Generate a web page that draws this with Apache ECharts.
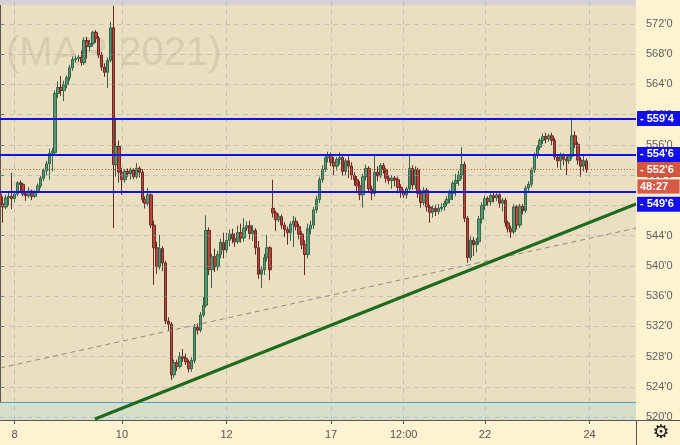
<!DOCTYPE html>
<html><head><meta charset="utf-8">
<script src="https://cdn.jsdelivr.net/npm/echarts@6/dist/echarts.min.js"></script>
<style>html,body{margin:0;padding:0;background:#fff3d2;}#c{width:680px;height:445px;}</style>
</head><body><div id="c"></div>
<script>
// ---- data ----
const ohlc = [
[549.5,548.2,547.4,550.0],[548.2,547.8,545.7,549.2],[547.8,549.0,547.5,549.4],[549.0,549.2,548.0,549.7],[549.2,548.9,547.5,552.3],
[548.9,549.5,548.4,549.8],[549.5,551.0,549.2,551.2],[551.0,550.8,549.8,551.3],[550.8,549.5,549.2,551.0],[549.5,549.3,548.6,549.9],
[549.3,549.9,549.0,550.4],[549.9,549.2,548.7,550.1],[549.2,549.8,549.0,550.0],[549.8,550.6,549.6,550.9],[550.6,551.6,550.3,551.9],
[551.6,552.6,551.2,552.9],[552.6,553.5,552.0,553.9],[553.5,554.9,551.4,555.5],[554.9,555.2,552.5,555.6],[555.0,562.8,554.6,563.2],
[562.8,563.6,562.2,564.4],[563.6,563.2,562.5,565.1],[563.2,564.0,561.8,564.5],[564.0,564.9,563.5,565.2],[564.9,566.2,564.5,566.6],
[566.2,567.3,565.8,567.7],[567.3,567.4,566.9,567.8],[567.4,567.6,567.0,567.9],[567.6,566.9,566.5,568.5],[566.9,569.8,566.6,570.2],
[569.8,569.0,567.4,570.3],[569.0,569.4,568.4,569.9],[569.4,570.9,569.0,571.1],[570.9,570.1,569.5,571.2],[570.1,567.9,567.5,570.4],
[567.9,566.3,565.8,568.3],[566.3,565.6,565.0,566.8],[565.6,567.2,563.5,567.6],[567.2,571.5,566.9,572.3],[571.5,553.4,545.0,574.4],
[553.4,555.8,551.8,559.6],[555.8,552.4,551.0,556.6],[552.4,551.4,549.4,552.9],[551.4,552.5,551.0,552.8],[552.5,552.2,551.8,552.9],
[552.2,552.7,551.4,553.0],[552.7,551.8,551.5,552.9],[551.8,552.9,551.5,553.6],[552.9,552.4,551.7,553.2],[552.4,548.8,548.4,552.8],
[548.8,548.3,547.6,549.2],[548.3,549.4,547.9,550.3],[549.4,545.4,545.0,549.6],[545.4,542.4,537.5,546.0],[542.4,539.9,538.9,543.2],
[539.9,542.3,539.5,544.1],[542.3,540.4,539.3,542.6],[540.4,532.7,532.3,540.7],[532.7,532.3,531.4,533.2],[532.3,525.6,524.9,532.6],
[525.6,527.2,525.2,527.6],[527.2,526.7,526.1,527.6],[526.7,528.0,526.4,528.6],[528.0,527.8,527.3,529.0],[527.8,527.3,526.9,528.4],
[527.3,526.4,525.9,527.6],[526.4,527.5,526.0,527.9],[527.5,531.9,527.1,532.3],[531.9,531.5,530.9,532.4],[531.5,533.5,531.2,533.9],
[533.5,534.8,533.2,535.9],[534.8,544.7,534.5,546.7],[544.7,539.5,538.8,545.1],[539.5,541.2,537.1,541.6],[541.2,539.9,539.2,542.3],
[539.9,541.5,539.4,542.0],[541.5,543.1,541.0,543.6],[543.1,542.1,541.0,544.4],[542.1,543.4,541.7,544.4],[543.4,544.2,542.6,544.8],
[544.2,543.6,543.0,544.9],[543.6,543.2,542.5,544.3],[543.2,544.4,542.9,545.3],[544.4,543.7,543.1,545.6],[543.7,545.0,543.2,546.3],
[545.0,545.3,544.6,545.9],[545.3,544.3,543.5,546.0],[544.3,544.7,543.3,545.4],[544.7,542.4,541.5,545.0],[542.4,538.9,538.3,543.3],
[538.9,539.5,537.1,540.0],[539.5,541.1,538.8,541.6],[541.1,542.4,540.6,544.1],[542.4,539.5,538.1,542.6],[547.6,547.0,546.4,551.4],
[547.0,546.1,544.6,547.3],[546.1,546.5,545.8,546.9],[546.5,545.4,544.9,546.8],[545.4,544.8,543.8,545.8],[544.8,544.4,542.8,545.2],
[544.4,545.5,543.3,545.9],[545.5,545.9,542.5,546.6],[545.9,545.2,544.7,546.4],[545.2,544.2,543.5,545.6],[544.2,542.8,542.2,544.6],
[542.8,541.5,538.8,543.4],[541.5,544.9,541.0,545.6],[544.9,545.4,544.2,546.0],[545.4,547.4,544.9,547.8],[547.4,548.8,547.0,549.3],
[548.8,551.4,548.3,551.8],[551.4,552.8,551.0,553.3],[552.8,554.3,552.4,554.7],[554.3,554.7,553.7,555.1],[554.7,553.7,553.2,555.0],
[553.7,553.2,552.0,554.4],[553.2,554.1,552.6,554.4],[554.1,554.3,553.4,555.0],[554.3,552.5,551.9,554.6],[552.5,553.9,552.0,554.2],
[553.9,553.2,551.6,554.5],[553.2,552.0,551.4,553.7],[552.0,551.4,550.6,552.4],[551.4,550.6,549.9,551.9],[550.6,549.4,548.7,551.2],
[549.4,551.8,547.7,552.2],[551.8,552.9,551.3,553.4],[552.9,550.2,549.7,553.2],[550.2,549.6,548.7,550.6],[549.6,552.4,549.2,554.7],
[552.4,551.9,551.2,553.2],[551.9,553.3,551.6,553.6],[553.3,552.7,552.2,553.6],[552.7,551.6,551.0,553.0],[551.6,551.3,550.8,552.0],
[551.3,551.6,550.2,552.0],[551.6,551.4,550.5,551.9],[551.4,550.4,549.6,551.8],[550.4,549.7,549.0,550.8],[549.7,549.4,549.0,550.1],
[549.4,550.2,548.9,550.5],[550.2,552.9,549.9,554.7],[552.9,550.7,550.1,553.3],[550.7,552.7,550.2,553.2],[552.7,549.6,549.0,553.0],
[549.6,548.4,547.7,550.1],[548.4,550.0,548.0,550.4],[550.0,547.8,547.2,550.3],[547.8,547.1,545.7,548.1],[547.1,547.6,546.4,548.0],
[547.6,547.2,546.6,548.1],[547.2,547.6,546.8,548.2],[547.6,547.8,547.2,548.3],[547.8,548.3,547.3,548.6],[548.3,548.8,547.9,549.2],
[548.8,549.6,548.3,550.1],[549.6,550.9,548.7,551.3],[550.9,551.3,549.2,552.2],[551.3,552.0,550.6,552.6],[552.0,553.4,551.5,555.7],
[553.4,546.3,545.8,553.8],[546.3,541.1,540.4,546.6],[541.1,543.4,540.7,543.9],[543.4,542.8,541.3,543.8],[542.8,543.2,541.8,543.7],
[543.2,546.2,542.8,546.6],[546.2,548.0,545.6,548.4],[548.0,548.9,547.4,549.3],[548.9,548.5,547.9,549.2],[548.5,549.3,548.0,549.6],
[549.3,549.0,548.4,549.7],[549.0,549.4,548.6,549.9],[549.4,548.3,547.7,549.6],[548.3,548.7,547.2,549.0],[548.7,545.7,545.2,549.0],
[545.7,544.9,544.4,546.0],[544.9,544.5,543.7,545.3],[544.5,547.8,544.2,548.2],[547.8,545.4,544.8,548.1],[545.4,547.9,545.0,548.2],
[547.9,547.3,546.8,548.2],[547.3,550.3,547.0,550.6],[550.3,550.8,549.9,551.2],[550.8,552.7,550.4,553.0],[552.7,554.7,552.3,555.0],
[554.7,555.7,554.2,556.0],[555.7,556.6,555.3,556.9],[556.6,557.1,556.1,557.5],[557.1,556.8,556.2,557.6],[556.8,557.2,556.4,557.5],
[557.2,556.6,556.0,557.6],[556.6,554.4,554.0,556.9],[554.4,553.9,553.0,554.8],[553.9,554.6,552.7,555.0],[554.6,554.1,553.3,554.9],
[554.1,553.9,552.0,554.5],[553.9,554.5,553.5,554.8],[554.5,557.2,554.1,559.6],[557.2,556.1,555.6,557.8],[556.1,554.0,553.4,556.4],
[554.0,553.2,551.8,554.4],[553.2,553.9,552.5,554.7],[553.9,552.75,552.3,554.2]
];
const slotCount = 220;
const xTickLabels = ['8','10','12','17','12:00','22','24'];
const xTickIndex  = [5,42,78,114,139,167,203];
const yTicks = [520,524,528,532,536,540,544,548,552,556,560,564,568,572];
const levels = [559.5, 554.75, 549.75];
const lastPrice = 552.75;
const countdown = '48:27';
const bandTop = 522;
const bandCeil = 574.5;
const trendLine  = [[32.7,519.75],[219,548.19]];
const dashedLine = [[0,526.5],[219,545.0]];
const watermark = '(MAR 2021)';
const yMin = 519.62, yMax = 575.17;

// ---- helpers ----
function fmt(v){ const w = Math.floor(v + 1e-9); const e = Math.round((v - w) * 8); return w + "'" + e; }
const categories = Array.from({length: slotCount}, (_, i) => {
  const k = xTickIndex.indexOf(i); return k >= 0 ? xTickLabels[k] : '';
});
const isTick = (i) => xTickIndex.indexOf(i) >= 0;

const chart = echarts.init(document.getElementById('c'), null, {renderer:'canvas'});
const FONT = 'Liberation Sans, Arial, sans-serif';
const BLUE = '#1010ec';
const RED = '#d2553e';

const option = {
  animation: false,
  backgroundColor: '#fff3d2',
  grid: { left: 0, right: 44, top: 0, bottom: 25, show: true, backgroundColor: '#eadfc0', borderWidth: 0 },
  xAxis: [
    { type: 'category', data: categories, boundaryGap: false,
      axisLine: { show: true, lineStyle: { color: '#555', width: 1 } },
      axisTick: { show: true, length: 4, interval: (i) => isTick(i), lineStyle: { color: '#555' } },
      axisLabel: { interval: (i) => isTick(i), color: '#555', fontSize: 11, fontFamily: FONT, margin: 9 },
      splitLine: { show: false } },
    { type: 'value', min: 0, max: slotCount - 1, show: false }
  ],
  yAxis: {
    type: 'value', position: 'right', min: yMin, max: yMax,
    axisLine: { show: true, lineStyle: { color: '#555', width: 1 } },
    axisTick: { show: true, length: 4, customValues: yTicks, lineStyle: { color: '#555' } },
    axisLabel: { customValues: yTicks, formatter: fmt, color: '#5e5e5e', fontSize: 11, fontFamily: FONT, margin: 10 },
    splitLine: { show: false }
  },
  series: [
    { // grid lines + bands
      type: 'line', xAxisIndex: 1, data: [], z: 1, silent: true,
      markLine: { silent: true, symbol: ['none','none'], label: { show: false },
        lineStyle: { color: 'rgba(150,160,185,0.45)', type: [5,4], width: 1 },
        data: yTicks.map(v => ({ yAxis: v })).concat(xTickIndex.map(i => ({ xAxis: i }))) },
      markArea: { silent: true, data: [
        [{ yAxis: yMin, itemStyle: { color: '#d5dfca' } }, { yAxis: bandTop }],
        [{ yAxis: bandCeil, itemStyle: { color: '#d6d1d6' } }, { yAxis: yMax }]
      ] }
    },
    { type: 'line', xAxisIndex: 1, data: [], z: 2, silent: true,
      markLine: { silent: true, symbol: ['none','none'], label: { show: false },
        data: [{ yAxis: bandTop, lineStyle: { color: '#4aa3dc', width: 1, type: 'solid' } }] } },
    { type: 'candlestick', name: 'MAR 2021', data: ohlc, z: 3, barWidth: 3,
      itemStyle: { color: '#55976f', color0: '#b8463a', borderColor: '#35664c', borderColor0: '#6d2a24', borderWidth: 1 } },
    { type: 'line', xAxisIndex: 1, data: dashedLine, z: 4, symbol: 'none', silent: true,
      lineStyle: { color: '#8f8c86', width: 1, type: [5,4] } },
    { type: 'line', xAxisIndex: 1, data: trendLine, z: 5, symbol: 'none', silent: true,
      lineStyle: { color: '#1e6a1e', width: 3 } },
    { type: 'line', xAxisIndex: 1, data: [], z: 6, silent: true,
      markLine: { silent: true, symbol: ['none','none'], label: { show: false },
        data: levels.map(v => ({ yAxis: v, lineStyle: { color: BLUE, width: 2, type: 'solid' } }))
          .concat([{ yAxis: lastPrice, lineStyle: { color: RED, width: 1, type: [1,2] } }]) } }
  ]
};
chart.setOption(option);

// right-hand price tags positioned through the y scale
function tag(value, text, color, dy, stroke){
  const y = chart.convertToPixel({ yAxisIndex: 0 }, value) + (dy || 0);
  return [
    { type: 'rect', z: 100, shape: { x: 637, y: y - 7.5, width: 43, height: 15 },
      style: { fill: color, stroke: stroke || null, lineWidth: stroke ? 1 : 0 } },
    { type: 'text', z: 101, x: 640, y: y,
      style: { text: text, fill: '#fff', font: 'bold 11px ' + FONT, textVerticalAlign: 'middle', textAlign: 'left' } }
  ];
}
const els = [
  { type: 'text', z: 1, x: 6, y: 54,
    style: { text: watermark, fill: 'rgba(110,100,80,0.14)', font: '40px ' + FONT, textVerticalAlign: 'middle' } },
  { type: 'line', z: 100, shape: { x1: 636.5, y1: 420, x2: 636.5, y2: 445 }, style: { stroke: '#555', lineWidth: 1 } },
  { type: 'line', z: 100, shape: { x1: 636, y1: 420.5, x2: 680, y2: 420.5 }, style: { stroke: '#555', lineWidth: 1 } },
  { type: 'text', z: 100, x: 661, y: 433,
    style: { text: '\u2699', fill: '#222', font: '19px DejaVu Sans', textAlign: 'center', textVerticalAlign: 'middle' } }
]
  .concat(tag(levels[0], "- " + fmt(levels[0]), BLUE))
  .concat(tag(levels[1], "- " + fmt(levels[1]), BLUE))
  .concat(tag(lastPrice, "- " + fmt(lastPrice), RED))
  .concat(tag(lastPrice, countdown, '#d65a47', 17, '#f3d5cc'))
  .concat(tag(levels[2], "- " + fmt(levels[2]), BLUE, 12));
chart.setOption({ graphic: { elements: els } });
</script></body></html>
